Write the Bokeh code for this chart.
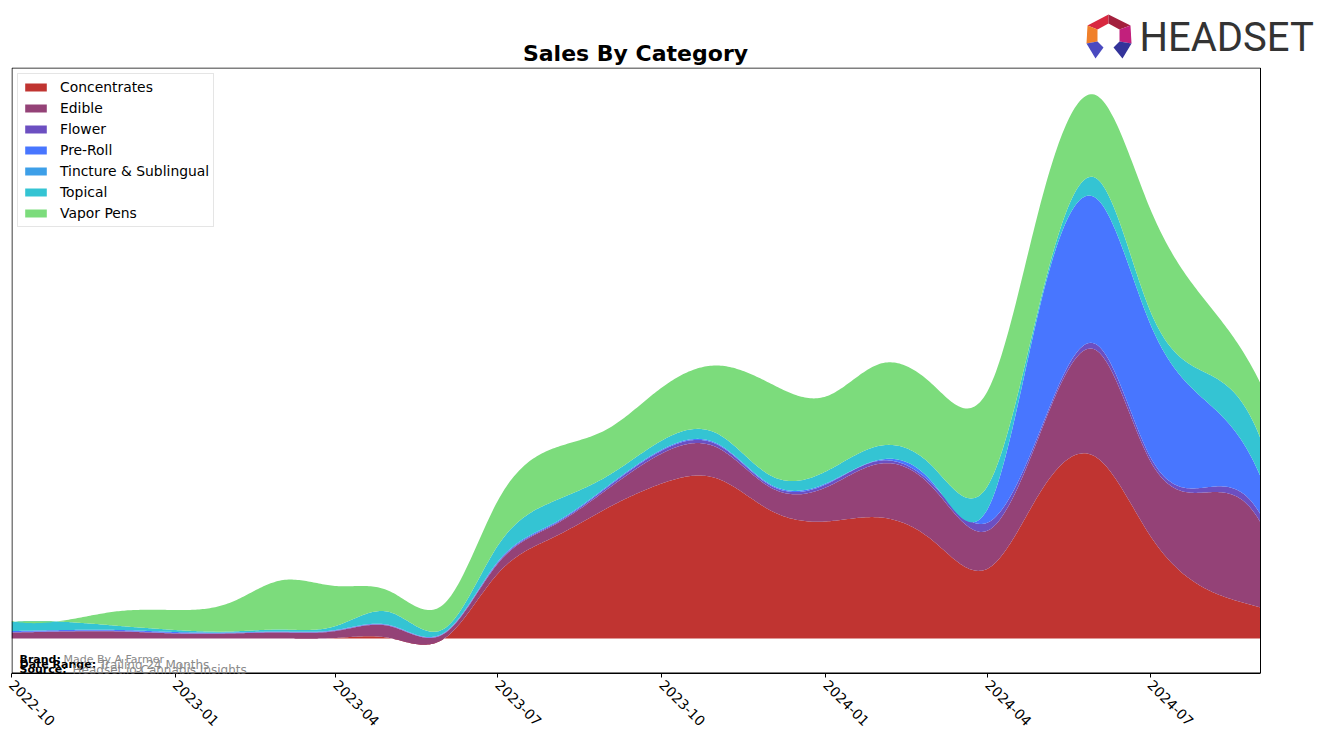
import numpy as np
from datetime import datetime
from bokeh.plotting import figure
from bokeh.layouts import column
from bokeh.models import (Range1d, FixedTicker, DatetimeTickFormatter, Label,
                          Legend, LegendItem, BoxAnnotation)
from bokeh.core.properties import value
from bokeh.embed import file_html
from bokeh.resources import INLINE

# ---------------- data (monthly) ----------------
months = ["2022-10", "2022-11", "2022-12", "2023-01", "2023-02", "2023-03",
          "2023-04", "2023-05", "2023-06", "2023-07", "2023-08", "2023-09",
          "2023-10", "2023-11", "2023-12", "2024-01", "2024-02", "2024-03",
          "2024-04", "2024-05", "2024-06", "2024-07", "2024-08", "2024-09"]

concentrates = [0, 0, 0, 0, 0, 0, 0.5, 0.5, 0, 65, 101, 131,
                155, 160, 128, 117, 121, 98, 70, 148, 181, 103, 50, 31]
edible = [6, 7, 7, 5, 5, 6, 7, 12, 5, 10, 12, 19,
          30, 31, 23, 34, 54, 53, 38, 60, 107, 75, 96, 85]
flower = [0.5, 0.5, 0.5, 0.5, 0.5, 0.5, 0.5, 0.5, 0.5, 1, 1, 2,
          3, 3, 2, 3, 3, 3, 8, 3, 6, 4, 5, 8]
pre_roll = [1, 1, 1, 1, 0.5, 0.5, 0.5, 0.5, 0.5, 1, 1, 1,
            1, 1, 1, 1, 1, 2, 14, 127, 146, 133, 87, 38]
tincture = [0, 0, 0, 0, 0, 0, 0, 0, 0, 0, 0, 0,
            0, 0, 0, 0, 0, 0, 0, 0, 0, 0, 0, 0]
topical = [9, 8, 4, 2, 1, 2, 4, 13, 4, 16, 22, 10,
           9, 10, 9, 12, 14, 16, 23, 4, 20, 13, 28, 38]
vapor_pens = [1, 2, 15, 20, 29, 49, 40, 21, 25, 45, 53, 47,
              53, 68, 92, 75, 82, 82, 95, 96, 83, 102, 72, 55]

categories = ["Concentrates", "Edible", "Flower", "Pre-Roll",
              "Tincture & Sublingual", "Topical", "Vapor Pens"]
series = [concentrates, edible, flower, pre_roll, tincture, topical, vapor_pens]
colors = ["#c03431", "#944277", "#6c4fc1", "#4876ff", "#3d9fe8", "#34c4d3", "#7cdc7c"]

tick_labels = ["2022-10", "2023-01", "2023-04", "2023-07", "2023-10",
               "2024-01", "2024-04", "2024-07"]

title_text = "Sales By Category"
footer = [("Brand:", "Made By A Farmer"),
          ("Date Range:", "Trailing 24 Months"),
          ("Source:", "Headset.io Cannabis Insights")]

# ---------------- smoothing for drawing (cubic spline, not-a-knot) ----------------
dates = [datetime.strptime(m, "%Y-%m") for m in months]
epoch = datetime(1970, 1, 1)
xd = np.array([(d - epoch).total_seconds() / 86400.0 for d in dates])


def spline(x, y, xs):
    y = np.asarray(y, dtype=float)
    n = len(x)
    h = np.diff(x)
    A = np.zeros((n, n))
    b = np.zeros(n)
    for i in range(1, n - 1):
        A[i, i - 1] = h[i - 1]
        A[i, i] = 2 * (h[i - 1] + h[i])
        A[i, i + 1] = h[i]
        b[i] = 6 * ((y[i + 1] - y[i]) / h[i] - (y[i] - y[i - 1]) / h[i - 1])
    A[0, 0] = -h[1]; A[0, 1] = h[0] + h[1]; A[0, 2] = -h[0]
    A[n - 1, n - 3] = -h[n - 2]; A[n - 1, n - 2] = h[n - 2] + h[n - 3]; A[n - 1, n - 1] = -h[n - 3]
    M = np.linalg.solve(A, b)
    idx = np.clip(np.searchsorted(x, xs) - 1, 0, n - 2)
    x0 = x[idx]; x1 = x[idx + 1]; hh = x1 - x0
    return (M[idx] * (x1 - xs) ** 3 / (6 * hh) + M[idx + 1] * (xs - x0) ** 3 / (6 * hh)
            + (y[idx] / hh - M[idx] * hh / 6) * (x1 - xs)
            + (y[idx + 1] / hh - M[idx + 1] * hh / 6) * (xs - x0))


xs_days = np.linspace(xd[0], xd[-1], 700)
xs_ms = xs_days * 86400000.0


def drop_title(fig):
    try:
        fig.title = None
    except Exception:
        fig.title.visible = False


# Layout geometry: both figures share a frame from page x=11 to x=1324.
LEFT = 11
FRAME_W = 1324 - LEFT

# ---------------- header figure (title + logo), page pixel coordinates ----------------
top = figure(width=1324, height=67, x_range=Range1d(LEFT, 1324), y_range=Range1d(67, 0),
             output_backend="svg", toolbar_location=None,
             x_axis_location=None, y_axis_location=None,
             min_border_left=LEFT, min_border_right=0, min_border_top=0, min_border_bottom=0)
drop_title(top)
top.outline_line_color = None
top.xgrid.visible = False
top.ygrid.visible = False
top.background_fill_color = "white"
top.border_fill_color = "white"

top.text(x=[635], y=[53], text=[title_text], text_align="center", text_baseline="middle",
         text_font=value("DejaVu Sans"), text_font_style="bold", text_font_size="22px",
         text_color="black")

logo_xs = [[1087, 1108, 1108, 1097], [1108, 1130, 1119, 1108],
           [1087, 1097, 1097, 1086], [1130, 1119, 1119, 1131],
           [1086, 1097, 1103, 1095], [1131, 1119, 1113, 1122]]
logo_ys = [[25, 14, 23, 29], [14, 25, 29, 23],
           [25, 29, 41, 43], [25, 29, 41, 43],
           [43, 41, 47, 58], [43, 41, 47, 58]]
logo_cols = ["#d8283f", "#a3203d", "#f0802a", "#c2207c", "#4a4ac0", "#33339a"]
top.patches(xs=logo_xs, ys=logo_ys, fill_color=logo_cols, line_color=None)
top.text(x=[1139], y=[37], text=["HEADSET"], text_align="left", text_baseline="middle",
         text_font=value("Roboto"), text_font_size="40px", text_color="#333333")

# ---------------- main chart ----------------
t0 = xd[0] * 86400000.0
t1 = xd[-1] * 86400000.0
ms_per_px = (t1 - t0) / 1249.0          # data frame spans page x 11..1260
x_end = t0 + FRAME_W * ms_per_px         # frame extends to the page edge (blank strip)

p = figure(width=1324, height=676, x_axis_type="datetime",
           x_range=Range1d(t0, x_end), y_range=Range1d(-35, 571),
           output_backend="svg", toolbar_location=None,
           min_border_left=LEFT, min_border_right=0, min_border_top=0,
           min_border_bottom=70)
drop_title(p)
p.background_fill_color = "white"
p.border_fill_color = "white"
p.outline_line_color = None
p.xgrid.visible = False
p.ygrid.visible = False
p.yaxis.visible = False

lower = np.zeros_like(xs_days)
items = []
for name, vals, col in zip(categories, series, colors):
    sm = spline(xd, vals, xs_days)
    upper = lower + sm
    r = p.varea(x=xs_ms, y1=lower, y2=upper, fill_color=col, fill_alpha=1.0)
    items.append(LegendItem(label=name, renderers=[r]))
    lower = upper

# chart box (left, top and right edges; the bottom edge is the x axis line)
p.add_layout(BoxAnnotation(left=t0 + 0.5 * ms_per_px, right=t1, bottom=-34.5, top=570.5,
                           fill_alpha=0, line_color="black", line_alpha=1.0, line_width=1))

legend = Legend(items=items, location="top_left")
legend.label_text_font = "DejaVu Sans"
legend.label_text_font_size = "13.9px"
legend.label_text_color = "black"
legend.glyph_width = 27
legend.glyph_height = 10
legend.label_height = 18
legend.spacing = 3
legend.padding = 4
legend.margin = 6
legend.label_standoff = 11
legend.border_line_color = "#cccccc"
legend.border_line_width = 1
legend.background_fill_alpha = 1.0
p.add_layout(legend)

ticks = [(datetime.strptime(t, "%Y-%m") - epoch).total_seconds() * 1000.0 for t in tick_labels]
p.xaxis.ticker = FixedTicker(ticks=ticks)
p.xaxis.formatter = DatetimeTickFormatter(months="%Y-%m", days="%Y-%m", years="%Y-%m")
p.xaxis.bounds = (t0, t1)
p.xaxis.major_label_orientation = -np.pi / 4
p.xaxis.major_label_text_font = "DejaVu Sans"
p.xaxis.major_label_text_font_size = "13.9px"
p.xaxis.major_label_text_color = "black"
p.xaxis.axis_line_color = "black"
p.xaxis.major_tick_line_color = "black"
p.xaxis.major_tick_out = 4
p.xaxis.major_tick_in = 0
p.xaxis.minor_tick_line_color = None


# page pixel -> data coordinate helpers (frame: x 11.., y 67..673)
def px(xp):
    return t0 + (xp - LEFT) * ms_per_px


def py(yp):
    return 638 - yp


# footer texts (kept inside the frame so they are not clipped)
foot_y = [659, 664, 669]
foot_vx = [63, 99, 72]
foot_fs = ["11px", "12px", "12px"]
for (k, v), yy, vx, fs in zip(footer, foot_y, foot_vx, foot_fs):
    p.add_layout(Label(x=px(19), y=py(yy), text=k, text_baseline="middle",
                       text_font="DejaVu Sans", text_font_style="bold",
                       text_font_size="11px", text_color="black"))
    p.add_layout(Label(x=px(vx), y=py(yy), text=v, text_baseline="middle",
                       text_font="DejaVu Sans", text_font_size=fs, text_color="#8a8a8a"))

layout = column(top, p, spacing=0)
open("out.html", "w").write(file_html(layout, INLINE))
